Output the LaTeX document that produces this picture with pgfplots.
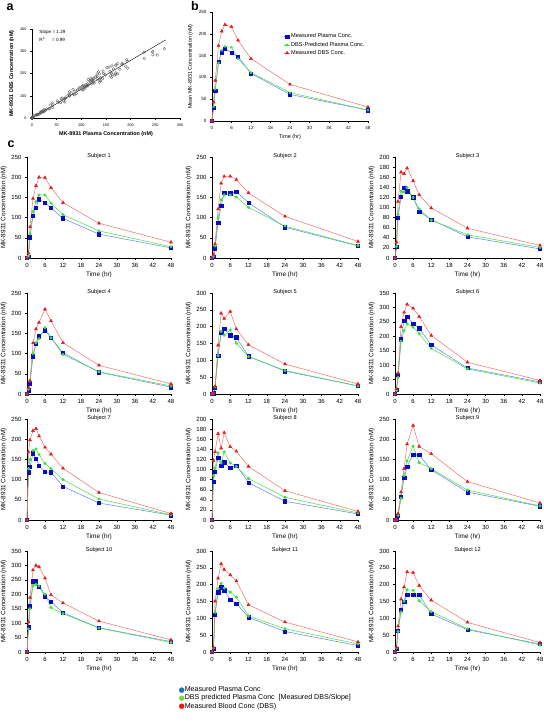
\documentclass[border=0pt]{standalone}
\usepackage{fontspec}
\setmainfont{Liberation Sans}
\usepackage{pgfplots}
\usepackage{pgfplotstable}
\pgfplotsset{compat=1.18}

\definecolor{bmk}{RGB}{10,10,200}
\definecolor{bln}{RGB}{90,130,235}
\definecolor{gmk}{RGB}{60,225,60}
\definecolor{gln}{RGB}{70,220,70}
\definecolor{rmk}{RGB}{225,30,30}
\definecolor{rln}{RGB}{240,110,110}
\definecolor{legB}{RGB}{30,110,190}
\definecolor{legG}{RGB}{140,205,80}
\definecolor{legR}{RGB}{240,20,20}

% columns: time, measured plasma (B), DBS-predicted plasma (G), measured DBS (R)
\pgfplotstableread{
t B G R
0 0 0 0
0.5 30 33 43
1 69 73 93
2 136 133 173
3 158 162 206
4 166 171 221
6 157 169 216
8 148 143 185
12 109 111 143
24 61 65 84
48 25 25 32
}\sMean
\pgfplotstableread{
t B G R
0 0 0 0
0.5 3 5 12
1 51 60 77
2 105 115 147
3 125 139 179
4 145 156 200
6 137 156 199
8 124 136 174
12 98 107 137
24 59 67 86
48 25 28 39
}\sA
\pgfplotstableread{
t B G R
0 0 0 0
0.5 3 5 8
1 24 30 35
2 87 99 121
3 129 144 185
4 161 156 202
6 160 156 202
8 164 151 194
12 137 125 161
24 76 79 103
48 30 31 41
}\sB
\pgfplotstableread{
t B G R
0 0 0 0
0.5 22 23 31
1 80 86 112
2 121 132 170
3 139 131 167
4 132 139 178
6 120 120 153
8 92 97 125
12 76 75 99
24 42 46 59
48 18 21 25
}\sC
\pgfplotstableread{
t B G R
0 0 0 0
0.5 9 12 15
1 27 32 33
2 93 100 126
3 125 127 161
4 143 137 177
6 158 164 210
8 139 139 181
12 102 98 127
24 54 55 71
48 17 20 25
}\sD
\pgfplotstableread{
t B G R
0 0 0 0
0.5 2 2 3
1 19 21 23
2 113 114 145
3 182 186 240
4 194 175 224
6 174 190 245
8 168 151 193
12 112 111 146
24 68 70 89
48 24 24 30
}\sE
\pgfplotstableread{
t B G R
0 0 0 0
0.5 15 13 18
1 67 57 72
2 190 183 233
3 254 220 283
4 268 243 311
6 244 232 297
8 228 209 268
12 170 158 203
24 90 87 110
48 42 38 47
}\sF
\pgfplotstableread{
t B G R
0 0 0 0
0.5 118 127 168
1 132 150 198
2 165 172 221
3 152 176 226
4 135 162 208
6 119 140 180
8 118 127 163
12 83 100 128
24 42 52 68
48 12 13 16
}\sG
\pgfplotstableread{
t B G R
0 0 0 0
0.5 76 88 118
1 96 103 135
2 123 133 171
3 108 113 142
4 114 135 173
6 103 113 145
8 108 106 136
12 74 82 106
24 37 45 58
48 12 14 17
}\sH
\pgfplotstableread{
t B G R
0 0 0 0
0.5 1 1 1
1 10 12 16
2 58 54 69
3 104 110 127
4 132 146 188
6 162 183 234
8 161 142 182
12 124 127 164
24 69 74 95
48 34 35 42
}\sI
\pgfplotstableread{
t B G R
0 0 0 0
0.5 86 80 104
1 159 150 189
2 245 230 284
3 245 234 300
4 227 229 295
6 193 200 256
8 174 154 198
12 136 133 170
24 84 83 107
48 36 33 42
}\sJ
\pgfplotstableread{
t B G R
0 0 0 0
0.5 10 12 14
1 110 118 151
2 178 188 219
3 192 204 262
4 183 190 245
6 156 178 229
8 144 163 211
12 103 107 140
24 61 69 89
48 19 24 30
}\sK
\pgfplotstableread{
t B G R
0 0 0 0
0.5 9 12 14
1 64 61 77
2 126 119 157
3 149 151 193
4 170 185 238
6 170 183 236
8 170 152 197
12 113 120 154
24 66 69 88
48 24 21 28
}\sL

\pgfplotsset{
  base/.style={scale only axis, anchor=south west, axis lines=left,
    axis line style={-, line width=0.5pt}, tick align=outside,
    major tick length=2pt, tick style={line width=0.4pt, black},
    clip=false, xmin=0, ymin=0,
    /pgf/number format/assume math mode=true},
  bl/.style={color=bln, line width=0.5pt, mark=square*, mark size=1.7pt,
    mark options={fill=bmk, draw=bmk}},
  gr/.style={color=gln, line width=0.5pt, mark=*, mark size=1.3pt,
    mark options={fill=gmk, draw=gmk}},
  rd/.style={color=rln, line width=0.5pt, mark=triangle*, mark size=1.7pt,
    mark options={fill=rmk, draw=rmk}},
  sc/.style={only marks, mark=o, mark size=1.4pt, mark options={draw=black!65, line width=0.3pt}},
  pk/.style={base, height=101pt, xmax=48, xtick={0,6,...,48},
    ticklabel style={font=\fontsize{6}{7}\selectfont},
    xlabel={Time (hr)}, ylabel={MK-8931 Concentration (nM)},
    label style={font=\fontsize{6.4}{7}\selectfont},
    xlabel style={yshift=3pt}, ylabel style={yshift=-2pt},
    title style={font=\fontsize{5.6}{6}\selectfont, at={(axis description cs:0.5,1)}, anchor=north, yshift=1pt}},
}

\newcommand{\subj}[7]{%
\begin{axis}[pk, at={(#1pt,-#2pt)}, width=#3pt, ymax=#4, ytick={0,#5,...,#4}, title={#6}]
\addplot[bl] table[x=t,y=B]{#7};
\addplot[gr] table[x=t,y=G]{#7};
\addplot[rd] table[x=t,y=R]{#7};
\end{axis}}

\begin{document}
\begin{tikzpicture}
\useasboundingbox (0pt,0pt) rectangle (544pt,-721pt);

% panel labels
\node[font=\fontsize{12.5}{13}\selectfont\bfseries] at (10pt,-7pt) {a};
\node[font=\fontsize{12.5}{13}\selectfont\bfseries] at (195pt,-6pt) {b};
\node[font=\fontsize{12.5}{13}\selectfont\bfseries] at (11pt,-144pt) {c};

% panel a
\begin{axis}[base, at={(32pt,-118pt)}, width=148pt, height=89pt,
  xmax=300, ymax=400, xtick={0,50,...,300}, ytick={0,100,...,400},
  ticklabel style={font=\fontsize{3.8}{4}\selectfont},
  xlabel={MK-8931 Plasma Concentration (nM)},
  ylabel={MK-8931 DBS Concentration (nM)},
  label style={font=\fontsize{5.4}{6}\selectfont\bfseries},
  xlabel style={yshift=2pt}, ylabel style={yshift=-1pt}]
\addplot[black, line width=0.4pt] coordinates {(0,0) (271,351)};
\addplot[sc] table[x=B,y=R]{\sA};
\addplot[sc] table[x=B,y=R]{\sB};
\addplot[sc] table[x=B,y=R]{\sC};
\addplot[sc] table[x=B,y=R]{\sD};
\addplot[sc] table[x=B,y=R]{\sE};
\addplot[sc] table[x=B,y=R]{\sF};
\addplot[sc] table[x=B,y=R]{\sG};
\addplot[sc] table[x=B,y=R]{\sH};
\addplot[sc] table[x=B,y=R]{\sI};
\addplot[sc] table[x=B,y=R]{\sJ};
\addplot[sc] table[x=B,y=R]{\sK};
\addplot[sc] table[x=B,y=R]{\sL};
\node[anchor=west, font=\fontsize{4.6}{5}\selectfont] at (axis cs:8,386) {Slope = 1.29};
\node[anchor=west, font=\fontsize{4.6}{5}\selectfont] at (axis cs:8,352) {R\textsuperscript{2}\hspace{7pt}= 0.99};
\end{axis}

% panel b
\begin{axis}[base, at={(212pt,-121pt)}, width=156pt, height=109pt,
  xmax=48, ymax=250, xtick={0,6,...,48}, ytick={0,50,...,250},
  ticklabel style={font=\fontsize{4.5}{5}\selectfont},
  xlabel={Time (hr)}, ylabel={Mean MK-8931 Concentration (nM)},
  label style={font=\fontsize{5.4}{6}\selectfont},
  xlabel style={yshift=2pt}, ylabel style={yshift=-1pt},
  legend style={at={(axis description cs:0.46,0.81)}, anchor=north west,
    draw=none, fill=none, font=\fontsize{5.6}{6}\selectfont,
    row sep=0.6pt, inner sep=0pt, nodes={inner sep=1pt}},
  legend cell align=left,
  legend image code/.code={\draw[mark repeat=2,mark phase=2] plot coordinates {(0cm,0cm) (0.1cm,0cm) (0.2cm,0cm)};}]
\addplot[bl] table[x=t,y=B]{\sMean};
\addlegendentry{Measured Plasma Conc.}
\addplot[gr, mark=star, mark options={draw=gmk, line width=0.8pt}] table[x=t,y=G]{\sMean};
\addlegendentry{DBS-Predicted Plasma Conc.}
\addplot[rd] table[x=t,y=R]{\sMean};
\addlegendentry{Measured DBS Conc.}
\end{axis}

% panel c
\subj{27}{258}{144}{250}{50}{Subject 1}{\sA}
\subj{212}{258}{146}{250}{50}{Subject 2}{\sB}
\subj{395}{258}{145}{200}{20}{Subject 3}{\sC}
\subj{27}{394}{144}{250}{50}{Subject 4}{\sD}
\subj{212}{394}{146}{300}{50}{Subject 5}{\sE}
\subj{395}{394}{145}{350}{50}{Subject 6}{\sF}
\subj{27}{520}{144}{250}{50}{Subject 7}{\sG}
\subj{212}{520}{146}{200}{20}{Subject 8}{\sH}
\subj{395}{520}{145}{250}{50}{Subject 9}{\sI}
\subj{27}{652}{144}{350}{50}{Subject 10}{\sJ}
\subj{212}{652}{146}{300}{50}{Subject 11}{\sK}
\subj{395}{652}{145}{300}{50}{Subject 12}{\sL}

% bottom legend
\begin{axis}[hide axis, scale only axis, width=10pt, height=10pt,
  xmin=0, xmax=1, ymin=0, ymax=1, anchor=north west, at={(179pt,-686pt)},
  legend style={at={(axis description cs:0,1)}, anchor=north west, draw=none, fill=none,
    font=\fontsize{7.1}{8}\selectfont, row sep=0.2pt, inner sep=0pt,
    nodes={inner sep=0.6pt}},
  legend cell align=left,
  legend image code/.code={\draw plot coordinates {(0pt,0pt)};}]
\addlegendimage{only marks, mark=*, mark size=2.5pt, color=legB}
\addlegendentry{Measured Plasma Conc}
\addlegendimage{only marks, mark=*, mark size=2.5pt, color=legG}
\addlegendentry{DBS predicted Plasma Conc\ \ [Measured DBS/Slope]}
\addlegendimage{only marks, mark=*, mark size=2.5pt, color=legR}
\addlegendentry{Measured Blood Conc (DBS)}
\end{axis}
\end{tikzpicture}
\end{document}
